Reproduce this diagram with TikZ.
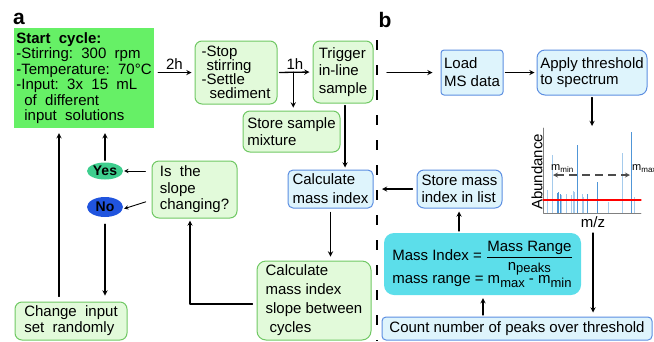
\documentclass[tikz,border=0pt]{standalone}
\usepackage{fontspec}
\setmainfont{Liberation Sans}
\usetikzlibrary{shapes.geometric}

\definecolor{startgreen}{RGB}{102,240,102}
\definecolor{boxgreen}{RGB}{226,250,218}
\definecolor{boxgreenline}{RGB}{112,200,100}
\definecolor{boxblue}{RGB}{222,244,252}
\definecolor{boxblueline}{RGB}{92,142,225}
\definecolor{formcyan}{RGB}{92,222,234}
\definecolor{yesgreen}{RGB}{62,206,142}
\definecolor{noblue}{RGB}{32,84,222}
\definecolor{lightbar}{RGB}{165,203,236}
\definecolor{darkbar}{RGB}{80,150,215}

\newcommand{\tightlines}{\lineskiplimit=-10pt\relax}
\newcommand{\lowsub}[2][13]{\raisebox{-0.4ex}{\fontsize{#1}{#1}\selectfont #2}}

\tikzstyle{every node}=[font=\fontsize{15}{17}\selectfont\tightlines]
\tikzstyle{every path}=[line cap=round,line join=round]
\tikzstyle{greenbox}=[draw=boxgreenline,fill=boxgreen,rounded corners=7pt,line width=1pt,align=left,inner sep=2pt]
\tikzstyle{bluebox}=[draw=boxblueline,fill=boxblue,rounded corners=5pt,line width=1pt,align=left,inner sep=2pt]
\tikzstyle{answer}=[ellipse,inner sep=0pt,font=\fontsize{14}{14}\selectfont\bfseries]
\tikzstyle{flow}=[-stealth,line width=1.3pt,shorten <=2pt,shorten >=2pt]
\tikzstyle{thinflow}=[-stealth,line width=0.9pt,shorten <=1pt,shorten >=1pt]
\tikzstyle{divider}=[line width=1.8pt,dash pattern=on 10pt off 15pt,line cap=butt]
\tikzstyle{panel}=[font=\fontsize{21}{21}\selectfont\bfseries,inner sep=0pt]

\begin{document}
\begin{tikzpicture}[x=1pt,y=-1pt]
    \useasboundingbox (0,0) rectangle (654,341);

    % Panel letters
    \node[panel] (labela) at (19,18.5) {a};
    \node[panel] (labelb) at (385,19.5) {b};

    % Panel a: cycle boxes
    \node[fill=startgreen,minimum width=140pt,minimum height=100pt,align=left,inner sep=1.5pt,
        font=\fontsize{15}{15.5}\selectfont\tightlines] (start) at (84,78)
        {\textbf{Start\ \ cycle:}\\-Stirring:\ \ 300\ \ rpm\\-Temperature:\ \ 70°C\\-Input:\ \ 3x\ \ 15\ \ mL\\
         \hspace*{8pt}of\ \ different\\\hspace*{8pt}input\ \ solutions};
    \node[greenbox,minimum width=82pt,minimum height=63pt,font=\fontsize{15}{13.8}\selectfont\tightlines]
        (stop) at (236,72.5) {-Stop\\\hspace*{5pt}stirring\\-Settle\\\hspace*{8pt}sediment};
    \node[greenbox,minimum width=60pt,minimum height=62pt,font=\fontsize{15}{17.5}\selectfont\tightlines]
        (trigger) at (343,72) {Trigger\\in-line\\sample};
    \node[greenbox,minimum width=97pt,minimum height=41pt,font=\fontsize{15}{17}\selectfont\tightlines]
        (storesample) at (291.5,131.5) {Store sample\\mixture};
    \node[bluebox,minimum width=85pt,minimum height=38pt,font=\fontsize{15}{19}\selectfont\tightlines]
        (calcmi) at (330.5,189) {Calculate\\mass index};
    \node[greenbox,minimum width=114pt,minimum height=79pt,rounded corners=9pt,font=\fontsize{15}{19}\selectfont\tightlines]
        (slope) at (314,300.5) {Calculate\\mass index\\slope between\\\hspace*{4pt}cycles};
    \node[greenbox,minimum width=85pt,minimum height=57pt,font=\fontsize{15}{16.5}\selectfont\tightlines]
        (isslope) at (194.5,189.5) {Is\ \ the\\slope\\changing?};
    \node[answer,fill=yesgreen,minimum width=36pt,minimum height=17pt] (yes) at (105,171) {Yes};
    \node[answer,fill=noblue,minimum width=36pt,minimum height=20pt] (no) at (105,207) {No};
    \node[greenbox,minimum width=112pt,minimum height=38pt,font=\fontsize{15}{16}\selectfont\tightlines]
        (change) at (71,321) {Change\ \ input\\set\ \ randomly};

    % Panel a: connections
    \draw[flow,shorten <=4pt,shorten >=3pt] (start.east |- stop.west) -- node[above=-1pt] (twoh) {2h} (stop.west);
    \draw[flow,shorten >=3pt] (stop.east) -- node[above=-1pt] (oneh) {1h} coordinate[pos=0.45] (split) (trigger.west);
    \draw[flow,shorten <=0pt,shorten >=3pt] (split) -- (split |- storesample.north);
    \draw[flow] ([xshift=2pt]trigger.south) -- ([xshift=2pt]trigger.south |- calcmi.north);
    \draw[flow,shorten <=4pt,shorten >=4pt] (calcmi.south) -- (calcmi.south |- slope.north);
    \draw[flow,shorten <=4pt] ([yshift=-3.5pt]slope.west) -| ([xshift=-4.5pt]isslope.south);
    \draw[thinflow,shorten <=6pt] (isslope.west |- yes) -- (yes.east);
    \draw[thinflow,shorten <=6pt] ([yshift=-10.5pt]isslope.west) -- ([yshift=-2pt]no.east);
    \draw[flow,shorten >=5pt] (yes.north) -- (yes.north |- start.south);
    \draw[flow,shorten <=7pt,shorten >=6pt] (no.south) -- (no.south |- change.north);
    \draw[flow,shorten <=5pt,shorten >=5pt] ([xshift=-12pt]change.north) -- ([xshift=-12pt]change.north |- start.south);

    % Divider between panels
    \draw[divider] (377,40) -- (377,341);

    % Panel b: processing boxes
    \node[bluebox,minimum width=62pt,minimum height=45pt,rounded corners=3pt,font=\fontsize{15}{18}\selectfont\tightlines]
        (load) at (472,72.5) {Load\\MS data};
    \node[bluebox,minimum width=110pt,minimum height=45pt,rounded corners=8pt,font=\fontsize{15}{16.7}\selectfont\tightlines]
        (apply) at (592,72.5) {Apply threshold\\to spectrum};
    \node[bluebox,minimum width=85pt,minimum height=38pt,rounded corners=7pt,font=\fontsize{15}{17}\selectfont\tightlines]
        (storemi) at (459.5,189) {Store mass\\index in list};
    \node[fill=formcyan,rounded corners=10pt,minimum width=197pt,minimum height=62pt,align=left,inner sep=2pt]
        (formula) at (482.5,264)
        {Mass Index = $\displaystyle\frac{\mbox{Mass Range}}{\mbox{n\raisebox{-0.25ex}{\fontsize{13}{13}\selectfont peaks}}}$\\[6pt]
         mass range = m\lowsub{max} - m\lowsub{min}};
    \node[bluebox,minimum width=270pt,minimum height=23pt,rounded corners=4pt,align=center]
        (count) at (517,328.5) {Count number of peaks over threshold};

    % Spectrum sketch
    \coordinate (spectop) at (592,126);
    \coordinate (specbot) at (593,233);
    \draw[lightbar,line width=1pt,line cap=butt]
        (547,213) -- (547,190) (552,213) -- (552,155) (561,213) -- (561,195)
        (566,213) -- (566,194) (571,213) -- (571,195) (573,213) -- (573,191)
        (574.5,213) -- (574.5,192) (582,213) -- (582,194) (583.5,213) -- (583.5,197)
        (608,213) -- (608,202) (622,213) -- (622,153) (634,213) -- (634,197);
    \draw[darkbar,line width=1pt,line cap=butt]
        (557,213) -- (557,193) (558.5,213) -- (558.5,192) (560,213) -- (560,194)
        (577,213) -- (577,145) (587,213) -- (587,194) (597,213) -- (597,182)
        (631,213) -- (631,132);
    \draw[gray,line width=0.8pt] (543,128) -- (543,213) -- (641,213);
    \draw[red,line width=1.3pt] (543,200) -- (641,200);
    \draw[stealth-stealth,gray!60!black,line width=1.2pt,dash pattern=on 8pt off 5pt,line cap=butt] (553,175) -- (630,175);
    \node[rotate=90,inner sep=0pt] (abund) at (537,172) {Abundance};
    \node[inner sep=0pt] (mz) at (593,222) {m/z};
    \node[anchor=base west,inner sep=0pt,font=\fontsize{11}{11}\selectfont] (mmin) at (551,170) {m\lowsub[8]{min}};
    \node[anchor=base west,inner sep=0pt,font=\fontsize{11}{11}\selectfont] (mmax) at (632,170) {m\lowsub[8]{max}};

    % Panel b: connections
    \coordinate (fromleft) at (387,72.5);
    \coordinate (toleft) at (382,189);
    \coordinate (countup) at (483,317);
    \coordinate (formup) at (459,233);
    \draw[flow,shorten <=0pt,shorten >=8pt] (fromleft) -- (load.west);
    \draw[flow] (load.east) -- (apply.west);
    \draw[flow,shorten >=0pt] (apply.south) -- (spectop);
    \draw[flow,shorten <=0pt,shorten >=4pt] (specbot) -- (specbot |- count.north);
    \draw[flow,shorten >=3pt] (countup) -- (countup |- formula.south);
    \draw[flow,shorten >=3pt] (formup) -- (formup |- storemi.south);
    \draw[flow,shorten >=0pt,shorten <=4pt] (storemi.west) -- (toleft);

\end{tikzpicture}
\end{document}
